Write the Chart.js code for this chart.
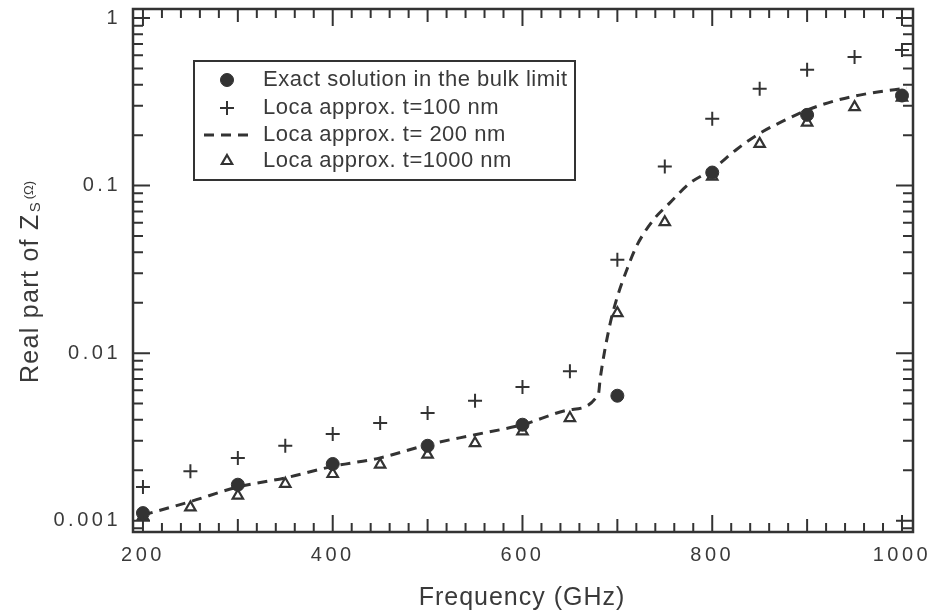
<!DOCTYPE html>
<html>
<head>
<meta charset="utf-8">
<script src="https://cdn.jsdelivr.net/npm/chart.js@4.4.1/dist/chart.umd.min.js"></script>
<style>
html, body { margin: 0; padding: 0; background: #fff; }
</style>
</head>
<body>
<canvas id="zsChart" width="939" height="613"></canvas>
<script>
// data (Real part of Zs in ohm vs frequency in GHz)
const exactFreq = [200, 300, 400, 500, 600, 700, 800, 900, 1000];
const exactVals = [0.00111, 0.00164, 0.00218, 0.0028, 0.00374, 0.00557, 0.1197, 0.2645, 0.345];

const loca100Freq = [200, 250, 300, 350, 400, 450, 500, 550, 600, 650, 700, 750, 800, 850, 900, 950, 1000];
const loca100Vals = [0.00159, 0.00197, 0.00237, 0.0028, 0.00329, 0.00383, 0.00439, 0.0052, 0.00628, 0.0078, 0.0361, 0.130, 0.2505, 0.378, 0.491, 0.585, 0.645];

const loca200Freq = [200, 250, 300, 350, 400, 450, 500, 550, 600, 650, 680, 682, 691, 699, 710, 720, 738, 755, 776, 800, 826, 850, 878, 899, 931, 966, 1005];
const loca200Vals = [0.00108, 0.0013, 0.00159, 0.0018, 0.00211, 0.00237, 0.00284, 0.00326, 0.00374, 0.00459, 0.0057, 0.0071, 0.0138, 0.0208, 0.0315, 0.0433, 0.0625, 0.0786, 0.103, 0.125, 0.165, 0.205, 0.248, 0.281, 0.323, 0.356, 0.382];

const loca1000Freq = [200, 250, 300, 350, 400, 450, 500, 550, 600, 650, 700, 750, 800, 850, 900, 950, 1000];
const loca1000Vals = [0.00106, 0.0012, 0.00141, 0.00166, 0.0019, 0.00216, 0.00248, 0.0029, 0.00341, 0.0041, 0.01734, 0.0605, 0.113, 0.1775, 0.238, 0.294, 0.335];

const xTickValues = [200, 400, 600, 800, 1000];
const xTickLabels = ['200', '400', '600', '800', '1000'];
const yTickValues = [0.001, 0.01, 0.1, 1];
const yTickLabels = ['0.001', '0.01', '0.1', '1'];

const seriesNames = [
    'Exact solution in the bulk limit',
    'Loca approx. t=100 nm',
    'Loca approx. t= 200 nm',
    'Loca approx. t=1000 nm'
];

const ink = '#333333';
const textInk = '#3a3a3a';
const font = '"Liberation Sans", Arial, sans-serif';

function toPoints(xs, ys) {
    return xs.map((x, i) => ({ x: x, y: ys[i] }));
}

// inward tick marks on all four sides + frame, titles and legend
const frameTicks = {
    id: 'frameTicks',
    beforeDraw(chart) {
        chart.ctx.letterSpacing = '3.5px';   // spaced tick labels like the original
    },
    afterDatasetsDraw(chart) {
        const { ctx, chartArea: a, scales: { x, y } } = chart;
        ctx.save();
        ctx.letterSpacing = '0px';
        ctx.strokeStyle = ink;
        ctx.lineWidth = 2;
        ctx.beginPath();
        for (let f = 200; f <= 1000; f += 20) {
            const px = x.getPixelForValue(f);
            const len = f % 200 === 0 ? 17 : (f % 100 === 0 ? 13 : 9);
            ctx.moveTo(px, a.bottom); ctx.lineTo(px, a.bottom - len);
            ctx.moveTo(px, a.top); ctx.lineTo(px, a.top + len);
        }
        for (let e = -4; e <= 0; e++) {
            for (let m = 1; m <= 9; m++) {
                const v = m * Math.pow(10, e);
                if (v < y.min || v > y.max) continue;
                const py = y.getPixelForValue(v);
                const len = m === 1 ? 17 : 10;
                ctx.moveTo(a.left, py); ctx.lineTo(a.left + len, py);
                ctx.moveTo(a.right, py); ctx.lineTo(a.right - len, py);
            }
        }
        ctx.stroke();
        ctx.lineWidth = 2.5;
        ctx.strokeRect(a.left, a.top, a.right - a.left, a.bottom - a.top);
        ctx.restore();
    },
    afterDraw(chart) {
        const ctx = chart.ctx;
        ctx.save();
        ctx.fillStyle = textInk;

        // x title
        ctx.letterSpacing = '1px';
        ctx.font = '25px ' + font;
        ctx.textAlign = 'center';
        ctx.textBaseline = 'alphabetic';
        ctx.fillText('Frequency (GHz)', 522, 605);

        // y title, with subscript S and (Ω)
        ctx.save();
        ctx.translate(38, 383);
        ctx.rotate(-Math.PI / 2);
        ctx.textAlign = 'left';
        ctx.letterSpacing = '1.3px';
        ctx.font = '25px ' + font;
        ctx.fillText('Real part of Z', 0, 0);
        let w = ctx.measureText('Real part of Z').width;
        ctx.letterSpacing = '0px';
        ctx.font = '15px ' + font;
        ctx.fillText('S', w + 1, 2);
        w += ctx.measureText('S').width + 4;
        ctx.font = '13px ' + font;
        ctx.fillText('(Ω)', w, -5);
        ctx.restore();

        // legend box
        ctx.fillStyle = '#fff';
        ctx.fillRect(194, 61, 381, 119);
        ctx.strokeStyle = ink;
        ctx.lineWidth = 2;
        ctx.strokeRect(194, 61, 381, 119);
        const rows = [80, 108, 135, 161];
        const ds = chart.data.datasets;
        ctx.font = '22px ' + font;
        ctx.letterSpacing = '0.5px';
        ctx.textAlign = 'left';
        ctx.textBaseline = 'middle';
        rows.forEach((ry, i) => {
            const d = ds[i];
            if (d.showLine) {
                ctx.save();
                ctx.strokeStyle = d.borderColor;
                ctx.lineWidth = d.borderWidth;
                ctx.setLineDash(d.borderDash);
                ctx.beginPath();
                ctx.moveTo(204, ry); ctx.lineTo(250, ry);
                ctx.stroke();
                ctx.restore();
            } else {
                ctx.save();
                ctx.fillStyle = d.backgroundColor;
                ctx.strokeStyle = d.borderColor;
                ctx.lineWidth = d.borderWidth;
                Chart.helpers.drawPoint(ctx, {
                    pointStyle: d.pointStyle, radius: d.pointRadius,
                    borderWidth: d.borderWidth, rotation: 0
                }, 227, ry);
                ctx.restore();
            }
            ctx.fillStyle = textInk;
            ctx.fillText(seriesNames[i], 263, ry);
        });
        ctx.restore();
    }
};

function noOverhang(scale) {
    scale.paddingTop = 0;
    scale.paddingBottom = 0;
    scale.paddingLeft = 0;
    scale.paddingRight = 0;
}

new Chart(document.getElementById('zsChart'), {
    type: 'scatter',
    data: {
        datasets: [
            {
                label: seriesNames[0],
                data: toPoints(exactFreq, exactVals),
                pointStyle: 'circle',
                pointRadius: 6.5,
                backgroundColor: ink,
                borderColor: ink,
                borderWidth: 1,
                order: 1
            },
            {
                label: seriesNames[1],
                data: toPoints(loca100Freq, loca100Vals),
                pointStyle: 'cross',
                pointRadius: 7,
                backgroundColor: ink,
                borderColor: ink,
                borderWidth: 2,
                order: 2
            },
            {
                label: seriesNames[2],
                data: toPoints(loca200Freq, loca200Vals),
                showLine: true,
                pointRadius: 0,
                borderColor: ink,
                borderWidth: 3,
                borderDash: [10, 7],
                cubicInterpolationMode: 'monotone',
                fill: false,
                order: 4
            },
            {
                label: seriesNames[3],
                data: toPoints(loca1000Freq, loca1000Vals),
                pointStyle: 'triangle',
                pointRadius: 6,
                backgroundColor: '#fff',
                borderColor: ink,
                borderWidth: 2.2,
                order: 3
            }
        ]
    },
    options: {
        responsive: false,
        animation: false,
        layout: { padding: { top: 9, right: 26, left: 0, bottom: 0 } },
        plugins: {
            legend: { display: false },
            tooltip: { enabled: false }
        },
        scales: {
            x: {
                type: 'linear',
                min: 189.5,
                max: 1011.6,
                grid: { display: false, drawTicks: false },
                border: { display: false },
                afterBuildTicks: (scale) => {
                    scale.ticks = xTickValues.map(v => ({ value: v }));
                },
                afterFit: (scale) => { scale.height = 81; noOverhang(scale); },
                ticks: {
                    padding: 11,
                    color: textInk,
                    font: { family: font, size: 20 },
                    maxRotation: 0,
                    callback: (v) => xTickLabels[xTickValues.indexOf(v)]
                }
            },
            y: {
                type: 'logarithmic',
                min: 0.000856,
                max: 1.133,
                grid: { display: false, drawTicks: false },
                border: { display: false },
                afterBuildTicks: (scale) => {
                    scale.ticks = yTickValues.map(v => ({ value: v }));
                },
                afterFit: (scale) => { scale.width = 133; noOverhang(scale); },
                ticks: {
                    padding: 12,
                    color: textInk,
                    font: { family: font, size: 20 },
                    callback: (v) => {
                        const i = yTickValues.findIndex(t => Math.abs(t - v) / t < 1e-6);
                        return i >= 0 ? yTickLabels[i] : '';
                    }
                }
            }
        }
    },
    plugins: [frameTicks]
});
</script>
</body>
</html>
